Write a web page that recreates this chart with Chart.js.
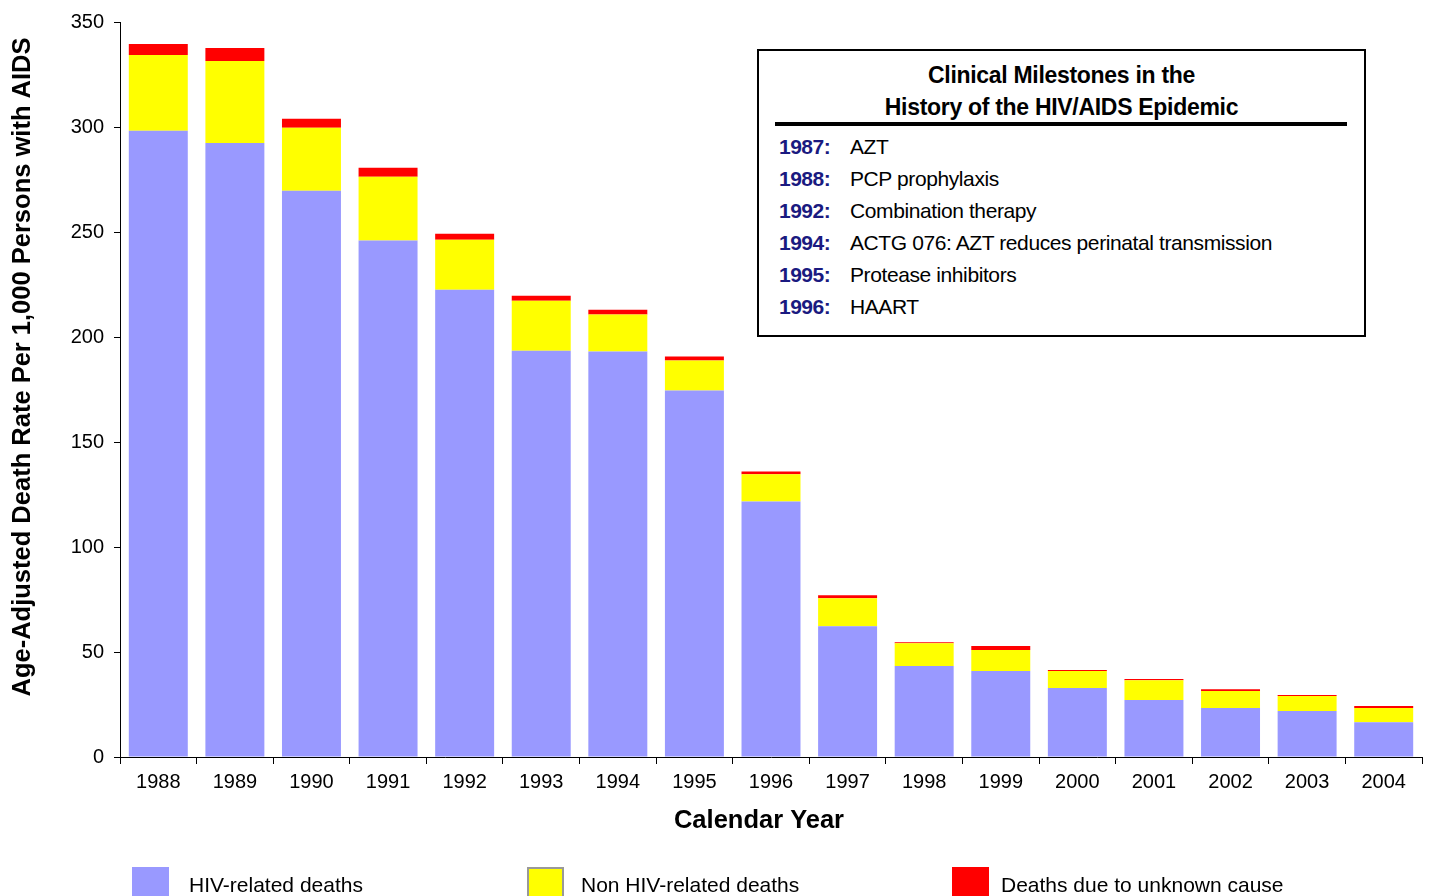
<!DOCTYPE html>
<html>
<head>
<meta charset="utf-8">
<script src="https://cdn.jsdelivr.net/npm/chart.js@4.4.1/dist/chart.umd.min.js"></script>
<style>
  body{margin:0;background:#fff;font-family:'Liberation Sans',Arial,sans-serif}
  #wrap{position:relative;width:1430px;height:896px;overflow:hidden}
  #milestones{position:absolute;left:757px;top:49px;width:605px;height:284px;border:2px solid #000;background:#fff}
  #milestones .ttl{position:absolute;left:0;width:100%;text-align:center;font-weight:bold;font-size:23px;letter-spacing:-0.3px;line-height:28px}
  #milestones .rule{position:absolute;left:16px;width:572px;top:71px;height:4px;background:#000}
  #milestones .row{position:absolute;left:20px;font-size:21px;line-height:26px;letter-spacing:-0.4px;white-space:nowrap}
  #milestones .row b{color:#1a1a80;display:inline-block;width:71px;letter-spacing:-0.5px}
  #legend .item{position:absolute;top:867px;white-space:nowrap}
  #legend .sw{position:absolute;top:0;width:37px;height:34px;box-sizing:border-box}
  #legend .lbl{position:absolute;top:6px;font-size:21px;line-height:24px}
</style>
</head>
<body>
<div id="wrap">
  <canvas id="deathChart"></canvas>
  <div id="milestones"></div>
  <div id="legend"></div>
</div>
<script>
// ── Data ──
var years=['1988','1989','1990','1991','1992','1993','1994','1995','1996','1997','1998','1999','2000','2001','2002','2003','2004'];
var hivDeaths=[298.2,292.4,269.6,245.9,222.5,193.5,193.1,174.5,121.7,62.3,43.3,40.9,32.8,27.1,23.3,21.9,16.6];
var nonHivDeaths=[36.1,39.0,30.0,30.4,23.8,23.8,17.6,14.3,12.9,13.3,10.9,10.0,8.1,9.5,8.1,7.1,6.7];
var unknownDeaths=[5.2,6.2,4.3,4.3,2.9,2.4,2.3,1.9,1.4,1.4,0.5,1.9,0.5,0.5,0.9,0.5,1.0];
var seriesNames=['HIV-related deaths','Non HIV-related deaths','Deaths due to unknown cause'];
var seriesColors=['#9999FF','#FFFF00','#FF0000'];
var milestoneYears=['1987:','1988:','1992:','1994:','1995:','1996:'];
var milestoneText=['AZT','PCP prophylaxis','Combination therapy','ACTG 076: AZT reduces perinatal transmission','Protease inhibitors','HAART'];
var xTitle='Calendar Year';
var yTitle='Age-Adjusted Death Rate Per 1,000 Persons with AIDS';

var FONT="'Liberation Sans', Arial, sans-serif";

// axis titles sit a bit off-centre in the original, so draw them ourselves
var axisTitles={
  id:'axisTitles',
  afterDraw:function(chart){
    var ctx=chart.ctx;
    ctx.save();
    ctx.fillStyle='#000';
    ctx.font='bold 25.5px '+FONT;
    ctx.textAlign='center';ctx.textBaseline='middle';
    ctx.fillText(xTitle,759,821);
    ctx.translate(23,367);
    ctx.rotate(-Math.PI/2);
    ctx.fillText(yTitle,0,0);
    ctx.restore();
  }
};

// ── Chart ──
var el=document.getElementById('deathChart');
new Chart(el,{
  type:'bar',
  data:{
    labels:years,
    datasets:[hivDeaths,nonHivDeaths,unknownDeaths].map(function(d,i){
      return {label:seriesNames[i],data:d,backgroundColor:seriesColors[i],borderWidth:0,barPercentage:0.77,categoryPercentage:1.0};
    })
  },
  options:{
    responsive:true,maintainAspectRatio:false,animation:false,
    layout:{padding:{top:21,right:8,bottom:0,left:0}},
    plugins:{legend:{display:false},tooltip:{enabled:false}},
    scales:{
      x:{
        stacked:true,
        afterFit:function(s){s.height=139},
        grid:{offset:true,drawOnChartArea:false,drawTicks:true,tickLength:7,color:'#000'},
        border:{display:true,color:'#000',width:1},
        ticks:{color:'#000',padding:6,maxRotation:0,font:{family:FONT,size:20}}
      },
      y:{
        stacked:true,min:0,max:350,
        afterFit:function(s){s.width=120},
        grid:{drawOnChartArea:false,drawTicks:true,tickLength:6,color:'#000'},
        border:{display:true,color:'#000',width:1},
        ticks:{stepSize:50,color:'#000',padding:10,font:{family:FONT,size:20}}
      }
    }
  },
  plugins:[axisTitles]
});

// ── Milestones box ──
var box=document.getElementById('milestones');
var html='<div class="ttl" style="top:10px">Clinical Milestones in the</div>'+
         '<div class="ttl" style="top:42px">History of the HIV/AIDS Epidemic</div>'+
         '<div class="rule"></div>';
milestoneYears.forEach(function(y,i){
  html+='<div class="row" style="top:'+(83+i*32)+'px"><b>'+y+'</b>'+milestoneText[i]+'</div>';
});
box.innerHTML=html;

// ── Legend ──
var legendX=[132,527,952];
var legendTextX=[189,581,1001];
var leg=document.getElementById('legend');
leg.innerHTML=seriesNames.map(function(n,i){
  var bd=i===1?'border:2px solid #999;':'';
  return '<div class="item"><div class="sw" style="left:'+legendX[i]+'px;background:'+seriesColors[i]+';'+bd+'"></div>'+
         '<div class="lbl" style="left:'+legendTextX[i]+'px">'+n+'</div></div>';
}).join('');
</script>
</body>
</html>
